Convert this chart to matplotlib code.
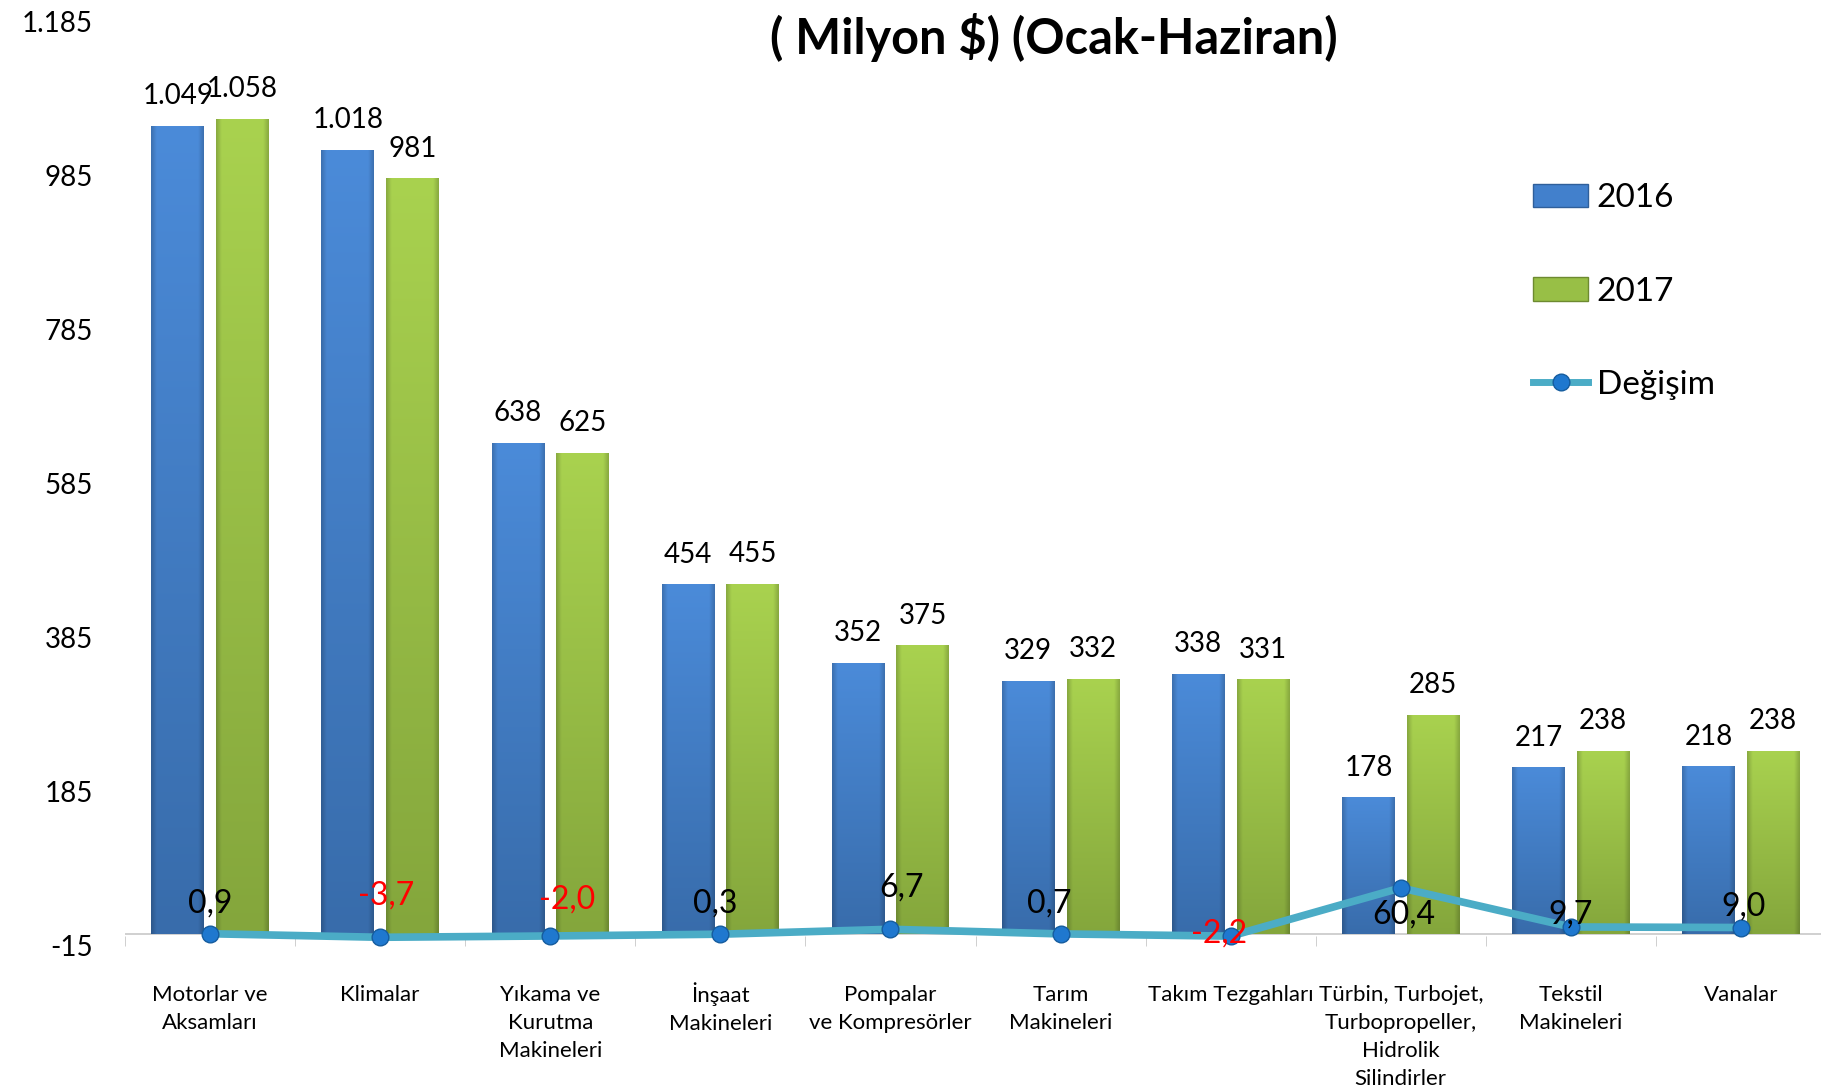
import matplotlib
matplotlib.use("Agg")
import matplotlib.pyplot as plt
import numpy as np
from matplotlib.patches import Patch
from matplotlib.lines import Line2D
from matplotlib.colors import to_rgb
from matplotlib.transforms import ScaledTranslation

plt.rcParams['font.family'] = ['Lato', 'DejaVu Sans']

categories = ["Motorlar ve\nAksamları", "Klimalar", "Yıkama ve\nKurutma\nMakineleri",
              "İnşaat\nMakineleri", "Pompalar\nve Kompresörler", "Tarım\nMakineleri",
              "Takım Tezgahları", "Türbin, Turbojet,\nTurbopropeller,\nHidrolik\nSilindirler",
              "Tekstil\nMakineleri", "Vanalar"]
values_2016 = [1049, 1018, 638, 454, 352, 329, 338, 178, 217, 218]
values_2017 = [1058, 981, 625, 455, 375, 332, 331, 285, 238, 238]
degisim = [0.9, -3.7, -2.0, 0.3, 6.7, 0.7, -2.2, 60.4, 9.7, 9.0]
ytick_values = [-15, 185, 385, 585, 785, 985, 1185]
series_names = ["2016", "2017", "Değişim"]
title = "( Milyon $) (Ocak-Haziran)"

# label offsets (points) for change labels: (dx, dy)
chg_offsets = [(0, 22), (4, 30), (12, 26), (-4, 22), (8, 30), (-8, 22),
               (-8, 2), (2, -19), (0, 9), (2, 15)]

W, H = 1821, 1092
fig = plt.figure(figsize=(W / 100, H / 100), dpi=100)
ax = fig.add_axes([125 / W, 146 / H, 1701 / W, 925 / H])

x = np.arange(len(categories))
bw = 0.31
off = 0.19

blue_top, blue_bot = to_rgb("#4b8bd9"), to_rgb("#386cab")
green_top, green_bot = to_rgb("#a9d24f"), to_rgb("#84a63c")

bars16 = ax.bar(x - off, values_2016, bw, color="#4280cc", zorder=2)
bars17 = ax.bar(x + off, values_2017, bw, color="#98bf46", zorder=2)


def shade(bars, ctop, cbot):
    for b in bars:
        x0, y0 = b.get_x(), b.get_y()
        w, h = b.get_width(), b.get_height()
        ny, nx = 200, 40
        t = np.linspace(1, 0, ny)[:, None]  # 1 at top
        ctop_a, cbot_a = np.array(ctop), np.array(cbot)
        img = cbot_a[None, None, :] + (ctop_a - cbot_a)[None, None, :] * t[:, :, None]
        img = np.repeat(img, nx, axis=1)
        xs = np.linspace(-1, 1, nx)
        side = 1 - 0.18 * np.clip((np.abs(xs) - 0.8) / 0.2, 0, 1)
        img = img * side[None, :, None]
        img = np.clip(img, 0, 1)
        im = ax.imshow(img, extent=[x0, x0 + w, y0, y0 + h], aspect='auto',
                       origin='upper', zorder=2.1, interpolation='bilinear')
        im.set_clip_path(b)
        b.set_facecolor('none')
        b.set_edgecolor('none')


shade(bars16, blue_top, blue_bot)
shade(bars17, green_top, green_bot)

# value labels
for bars, vals in ((bars16, values_2016), (bars17, values_2017)):
    for b, v in zip(bars, vals):
        txt = f"{v:,}".replace(",", ".")
        ax.annotate(txt, (b.get_x() + b.get_width() / 2, b.get_height()),
                    xytext=(0, 12), textcoords='offset points', ha='center',
                    va='bottom', fontsize=20, color='black', zorder=5)

# change line
ax.plot(x, degisim, color="#4bacc6", lw=5.5, zorder=3, solid_joinstyle='miter')
ax.plot(x, degisim, 'o', ms=12, color="#1f78cf", mec="#155c9e", mew=1, zorder=4)
for xi, v, (dx, dy) in zip(x, degisim, chg_offsets):
    txt = f"{v:.1f}".replace(".", ",")
    ax.annotate(txt, (xi, v), xytext=(dx, dy), textcoords='offset points',
                ha='center', va='center', fontsize=23,
                color='red' if v < 0 else 'black', zorder=6)

ax.axhline(0, color="#c8c8c8", lw=1.2, zorder=1)

ax.set_xlim(-0.5, len(categories) - 0.5)
ax.set_ylim(-15, 1185)
ax.set_yticks(ytick_values)
ax.set_yticklabels([f"{v:,}".replace(",", ".") for v in ytick_values], fontsize=20)
ax.tick_params(axis='y', length=0, pad=23)
ax.set_xticks(x)
ax.set_xticklabels(categories, fontsize=16, linespacing=1.5)
ax.tick_params(axis='x', length=0, pad=28)
for lab in ax.get_xticklabels():
    if lab.get_text().startswith("İ"):
        lab.set_transform(lab.get_transform() +
                          ScaledTranslation(0, 2 / 72, fig.dpi_scale_trans))
ax.set_xticks(np.arange(len(categories) + 1) - 0.5, minor=True)
ax.tick_params(axis='x', which='minor', direction='in', length=7, color="#c8c8c8")
for s in ax.spines.values():
    s.set_visible(False)

fig.text(907 * 1.1614 / W, 1 - 32 * 1.1614 / H, title, ha='center', va='center',
         fontsize=35, fontweight='bold')

handles = [Patch(facecolor="#4280cc", edgecolor="#2f5f9a"),
           Patch(facecolor="#98bf46", edgecolor="#6d8a30"),
           Line2D([0], [0], color="#4bacc6", lw=5, marker='o', ms=12,
                  markerfacecolor="#1f78cf", markeredgecolor="#155c9e")]
leg = fig.legend(handles, series_names, loc='upper left',
                 bbox_to_anchor=(1520 / W, 1 - 170 / H), frameon=False,
                 fontsize=24, labelspacing=1.9, handlelength=1.65,
                 handleheight=0.7, handletextpad=0.25, borderaxespad=0)

fig.savefig("out.png", dpi=100)
